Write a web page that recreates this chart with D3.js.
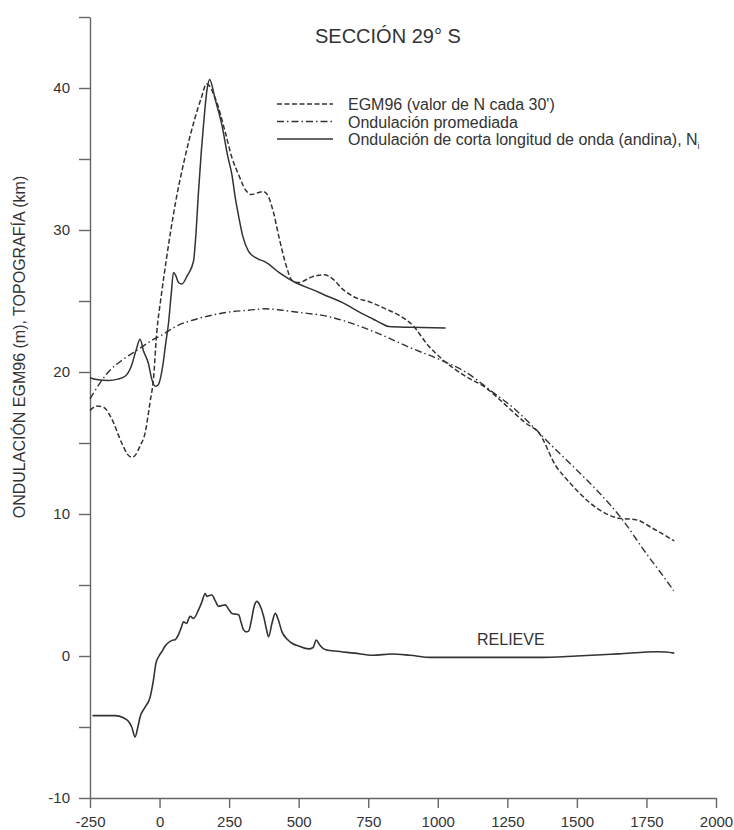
<!DOCTYPE html>
<html>
<head>
<meta charset="utf-8">
<script src="https://cdn.jsdelivr.net/npm/d3@7"></script>
<style>
  html, body { margin: 0; padding: 0; background: #fff; }
  svg { display: block; font-family: "Liberation Sans", Arial, Helvetica, sans-serif; }
</style>
</head>
<body>
<svg id="chart" width="734" height="830"></svg>
<script>
// ---- Data (distance km, value) ----
const egm96 = [[-250,17.3],[-225,17.6],[-200,17.5],[-172,16.7],[-136,15.0],[-115,14.2],[-100,14.0],[-85,14.2],[-70,14.8],[-52,15.7],[-34,17.9],[-22,19.5],[-10,22.8],[5,25.2],[25,28.0],[58,32.0],[90,35.0],[126,37.8],[150,39.3],[169,40.3],[200,39.3],[236,36.9],[260,35.1],[284,33.9],[310,32.8],[330,32.5],[350,32.6],[374,32.7],[390,32.4],[410,31.2],[428,29.6],[455,27.5],[476,26.45],[500,26.3],[548,26.7],[592,26.85],[620,26.6],[660,25.8],[698,25.3],[760,24.9],[812,24.45],[860,24.0],[914,23.2],[960,22.0],[1016,20.9],[1100,19.7],[1172,18.9],[1220,18.1],[1270,17.2],[1316,16.4],[1364,15.7],[1424,13.4],[1470,12.3],[1508,11.5],[1580,10.3],[1652,9.7],[1712,9.6],[1772,9.0],[1850,8.1]];

const promediada = [[-250,18.1],[-215,19.2],[-184,20.0],[-130,20.9],[-76,21.6],[-30,22.2],[8,22.6],[68,23.3],[128,23.7],[188,24.0],[260,24.25],[320,24.35],[380,24.45],[440,24.35],[500,24.2],[596,23.95],[656,23.65],[716,23.25],[800,22.6],[896,21.75],[1004,20.9],[1100,20.0],[1196,18.6],[1270,17.5],[1340,16.2],[1400,15.0],[1460,13.85],[1520,12.7],[1580,11.5],[1664,9.6],[1748,7.25],[1800,5.9],[1848,4.6]];

const andina = [[-250,19.6],[-220,19.45],[-184,19.4],[-150,19.5],[-124,19.7],[-100,20.5],[-85,21.5],[-70,22.3],[-58,21.5],[-40,20.6],[-28,19.5],[-15,19.0],[-5,19.1],[12,20.5],[22,22.0],[32,23.4],[42,25.5],[50,27.0],[58,26.8],[68,26.3],[80,26.2],[100,26.8],[122,27.8],[130,29.5],[140,32.7],[150,35.5],[158,37.4],[170,39.8],[180,40.6],[200,39.2],[224,37.4],[245,35.2],[260,33.9],[272,32.3],[284,31.0],[300,29.5],[320,28.5],[350,28.0],[380,27.75],[430,27.0],[488,26.3],[550,25.8],[608,25.3],[656,24.9],[720,24.2],[770,23.7],[800,23.4],[824,23.2],[900,23.15],[1028,23.1]];

const relieve = [[-241,-4.2],[-200,-4.2],[-160,-4.2],[-130,-4.35],[-112,-4.6],[-100,-5.0],[-88,-5.7],[-78,-5.0],[-70,-4.3],[-52,-3.6],[-34,-2.9],[-22,-1.7],[-13,-0.5],[-2,0.0],[8,0.3],[20,0.7],[32,0.95],[45,1.1],[56,1.15],[68,1.5],[78,2.0],[86,2.4],[98,2.3],[104,2.6],[110,2.8],[122,2.65],[140,3.25],[152,3.8],[164,4.4],[170,4.2],[176,4.25],[188,4.3],[200,3.9],[212,3.5],[224,3.55],[236,3.6],[248,3.3],[260,3.0],[272,2.95],[284,2.9],[294,2.3],[302,1.84],[312,1.7],[320,1.75],[330,2.5],[340,3.5],[350,3.85],[360,3.6],[374,2.8],[384,1.9],[392,1.36],[404,2.3],[416,3.0],[426,2.6],[440,1.7],[458,1.2],[476,0.9],[500,0.7],[536,0.5],[552,0.6],[563,1.13],[575,0.8],[590,0.5],[602,0.42],[630,0.35],[700,0.2],[767,0.05],[835,0.14],[900,0.05],[974,-0.1],[1100,-0.1],[1250,-0.1],[1361,-0.1],[1500,0.0],[1650,0.15],[1788,0.3],[1820,0.28],[1850,0.2]];

const xTicks = [-250,0,250,500,750,1000,1250,1500,1750,2000];
const yTicks = [-10,-5,0,5,10,15,20,25,30,35,40,45];
const yLabels = [-10,0,10,20,30,40];

const titleText = "SECCIÓN 29° S";
const yTitle = "ONDULACIÓN EGM96 (m), TOPOGRAFÍA (km)";
const legendItems = [
  {label: "EGM96 (valor de N cada 30')", dash: "5,2.5"},
  {label: "Ondulación promediada", dash: "7,3,1.5,3"},
  {label: "Ondulación de corta longitud de onda (andina), N", dash: null, sub: "i"}
];
const relieveLabel = "RELIEVE";

// ---- Drawing ----
const svg = d3.select("#chart");
const x = d3.scaleLinear().domain([-250, 2000]).range([90, 716]);
const y = d3.scaleLinear().domain([-10, 45]).range([798, 17]);

const axisColor = "#666";
const lineColor = "#333";
const textColor = "#333";

// Y axis
const gy = svg.append("g")
  .attr("transform", `translate(${x(-250)},0)`)
  .call(d3.axisLeft(y).tickValues(yTicks).tickSize(11).tickSizeOuter(0).tickPadding(9)
    .tickFormat(d => yLabels.includes(d) ? d : ""));
// X axis
const gx = svg.append("g")
  .attr("transform", `translate(0,${y(-10)})`)
  .call(d3.axisBottom(x).tickValues(xTicks).tickSize(10).tickSizeOuter(0).tickPadding(8)
    .tickFormat(d => d));

[gx, gy].forEach(g => {
  g.selectAll("path.domain").attr("stroke", axisColor).attr("stroke-width", 1.4);
  g.selectAll(".tick line").attr("stroke", axisColor).attr("stroke-width", 1.4);
  g.selectAll(".tick text").attr("fill", textColor)
    .style("font-size", "15px")
    .style("font-family", '"Liberation Sans", Arial, Helvetica, sans-serif');
});

// Lines
const line = d3.line().x(d => x(d[0])).y(d => y(d[1])).curve(d3.curveMonotoneX);

svg.append("path").datum(promediada).attr("d", line)
  .attr("fill", "none").attr("stroke", lineColor).attr("stroke-width", 1.4)
  .attr("stroke-dasharray", legendItems[1].dash);
svg.append("path").datum(egm96).attr("d", line)
  .attr("fill", "none").attr("stroke", lineColor).attr("stroke-width", 1.5)
  .attr("stroke-dasharray", legendItems[0].dash);
svg.append("path").datum(andina).attr("d", line)
  .attr("fill", "none").attr("stroke", lineColor).attr("stroke-width", 1.5);
svg.append("path").datum(relieve).attr("d", line)
  .attr("fill", "none").attr("stroke", lineColor).attr("stroke-width", 1.6);

// Title
svg.append("text").attr("x", 315).attr("y", 43)
  .attr("fill", textColor).style("font-size", "20px").text(titleText);

// Y axis title
svg.append("text")
  .attr("transform", "translate(25,347) rotate(-90)")
  .attr("text-anchor", "middle")
  .attr("fill", textColor).style("font-size", "16px").text(yTitle);

// Legend
const lg = svg.append("g");
legendItems.forEach((it, i) => {
  const cy = 104 + i * 17.5;
  lg.append("line").attr("x1", 277).attr("x2", 333).attr("y1", cy).attr("y2", cy)
    .attr("stroke", lineColor).attr("stroke-width", 1.4)
    .attr("stroke-dasharray", it.dash);
  const t = lg.append("text").attr("x", 348).attr("y", cy + 6)
    .attr("fill", textColor).style("font-size", "16px").text(it.label);
  if (it.sub) {
    t.append("tspan").attr("dy", 4).style("font-size", "9px").text(it.sub);
  }
});

// RELIEVE label
svg.append("text").attr("x", 477).attr("y", 645)
  .attr("fill", textColor).style("font-size", "16px").text(relieveLabel);
</script>
</body>
</html>
